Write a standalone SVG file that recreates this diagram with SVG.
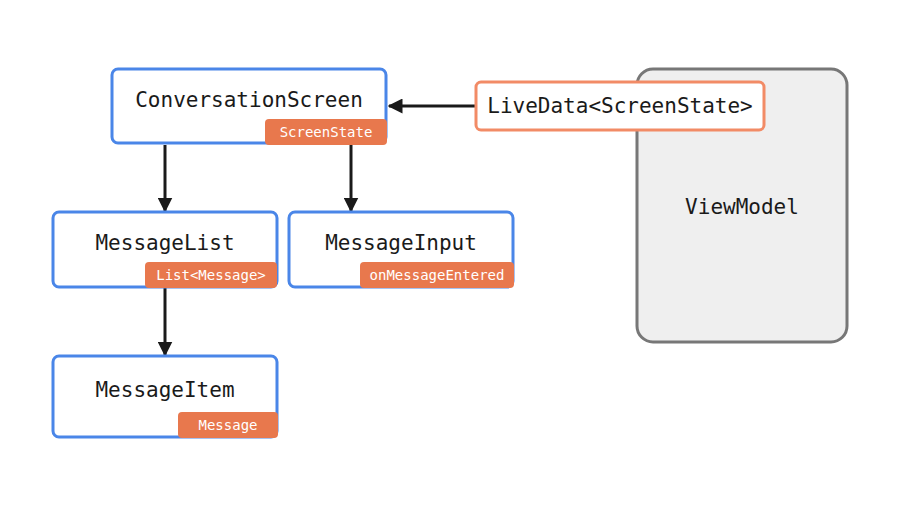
<svg xmlns="http://www.w3.org/2000/svg" width="900" height="506" viewBox="0 0 900 506">
<defs>
<style>
.node{fill:#fff;stroke:#4a86e8;stroke-width:3}
.tag{fill:#e8784d}
.t{font-family:"DejaVu Sans Mono","Liberation Mono",monospace;font-size:21px;fill:#1a1a1a;text-anchor:middle}
.tt{font-family:"DejaVu Sans Mono","Liberation Mono",monospace;font-size:14px;fill:#fff;text-anchor:middle}
.edge{stroke:#1a1a1a;stroke-width:3;fill:none}
</style>
<marker id="ah" viewBox="0 0 10 10" refX="9" refY="5" markerWidth="5" markerHeight="5" orient="auto" markerUnits="strokeWidth">
<path d="M0,0 L10,5 L0,10 Z" fill="#1a1a1a"/>
</marker>
</defs>
<rect width="900" height="506" fill="#fff"/>
<g id="viewmodel">
<rect x="637" y="69" width="210" height="273" rx="16" fill="#efefef" stroke="#777" stroke-width="3"/>
<text class="t" x="742" y="214">ViewModel</text>
</g>
<g id="connectors">
<line class="edge" x1="476" y1="106" x2="389" y2="106" marker-end="url(#ah)"/>
<line class="edge" x1="165" y1="145" x2="165" y2="211" marker-end="url(#ah)"/>
<line class="edge" x1="351" y1="145" x2="351" y2="211" marker-end="url(#ah)"/>
<line class="edge" x1="165" y1="288" x2="165" y2="355" marker-end="url(#ah)"/>
</g>
<g id="livedata">
<rect x="476" y="82" width="288" height="48" rx="5" fill="#fff" stroke="#f28b66" stroke-width="3"/>
<text class="t" x="620" y="113">LiveData&lt;ScreenState&gt;</text>
</g>
<g id="conversationscreen">
<rect class="node" x="112" y="69" width="274" height="74" rx="6"/>
<text class="t" x="249" y="107">ConversationScreen</text>
<rect class="tag" x="265" y="119" width="122" height="26" rx="4"/>
<text class="tt" x="326" y="137">ScreenState</text>
</g>
<g id="messagelist">
<rect class="node" x="53" y="212" width="224" height="75" rx="6"/>
<text class="t" x="165" y="250">MessageList</text>
<rect class="tag" x="145" y="262" width="132" height="26" rx="4"/>
<text class="tt" x="211" y="280">List&lt;Message&gt;</text>
</g>
<g id="messageinput">
<rect class="node" x="289" y="212" width="224" height="75" rx="6"/>
<text class="t" x="401" y="250">MessageInput</text>
<rect class="tag" x="360" y="262" width="154" height="26" rx="4"/>
<text class="tt" x="437" y="280">onMessageEntered</text>
</g>
<g id="messageitem">
<rect class="node" x="53" y="356" width="224" height="81" rx="6"/>
<text class="t" x="165" y="397">MessageItem</text>
<rect class="tag" x="178" y="412" width="100" height="26" rx="4"/>
<text class="tt" x="228" y="430">Message</text>
</g>
</svg>
